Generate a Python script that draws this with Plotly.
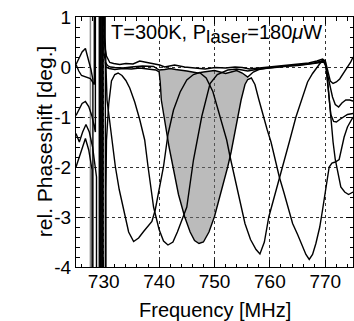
import plotly.graph_objects as go

# ---------------- data ----------------
env1_x = [725.0, 725.5, 726.1, 726.7, 727.2, 727.7, 728.05, 728.05, 729.45, 729.45, 730.15, 730.15, 730.5, 731.1,
          731.8, 732.9, 734.0, 735.3, 736.5, 737.3, 738.3, 740.1, 741.0, 742.8, 744.6, 746.5, 748.3, 750.1, 752.0,
          753.7, 755.0, 756.3, 758.1, 759.9, 761.5, 763.5, 765.3, 767.0, 768.5, 769.5, 770.0, 770.4, 770.9, 771.4,
          772.0, 772.6, 773.3, 774.0, 774.6, 775.0]
env1_y = [0.05, 0.17, 0.30, 0.37, 0.18, -0.05, -0.25, -6, -6, 6, 6, 0.45, 0.22, 0.09,
          0.07, 0.05, 0.07, 0.06, 0.12, 0.10, 0.07, 0.04, 0.0, 0.04, 0.0, -0.02, -0.04, -0.01, -0.02,
          0.0, -0.01, -0.04, -0.02, 0.0, 0.02, 0.04, 0.05, 0.08, 0.12, 0.16, 0.12, -0.05, -0.28, -0.33,
          -0.30, -0.24, -0.12, 0.0, 0.1, 0.2]

env2_x = [725.0, 725.5, 726.0, 726.8, 727.6, 728.3, 728.3, 729.65, 729.65, 730.3, 730.3, 730.7, 731.2, 732.0,
          733.5, 735.0, 737.0, 739.0, 740.0, 741.0, 742.0, 743.0, 744.0, 745.0, 746.0, 747.0, 748.0, 749.0,
          750.0, 751.0, 752.0, 753.0, 754.0, 755.0, 756.0, 757.0, 758.0, 759.5, 761.0, 763.0, 765.0, 767.0,
          768.5, 769.7, 770.2, 770.6, 771.0, 771.4, 771.8, 772.3, 772.8, 773.5, 774.2, 775.0]
env2_y = [0.05, -0.08, -0.17, -0.20, -0.23, -0.35, 6, 6, -6, -6, 0.1, 0.03, 0.0, -0.01,
          -0.02, 0.0, 0.02, 0.01, -0.06, -0.05, -0.03, -0.05, -0.06, -0.08, -0.1, -0.12, -0.1, -0.09,
          -0.07, -0.1, -0.13, -0.1, -0.07, -0.12, -0.2, -0.1, -0.05, -0.02, 0.0, 0.02, 0.03, 0.05,
          0.08, 0.1, 0.0, -0.5, -1.1, -1.5, -1.85, -2.15, -2.4, -2.5, -2.55, -2.5]

b_x = [725.0, 725.5, 726.1, 726.7, 727.3, 727.9, 728.5, 728.5, 729.9, 729.9, 730.4, 730.4, 730.5, 730.9, 731.4,
       732.0, 732.6, 733.3, 734.0, 734.7, 735.6, 736.5, 737.4, 738.0, 739.0, 740.0, 740.8, 741.6, 742.5, 743.3,
       744.2, 745.0, 746.2, 747.7, 749.2, 750.5, 752.4, 754.0, 756.0, 758.0, 760.0, 762.0, 764.0, 766.0, 768.0,
       769.3, 769.9, 770.3, 770.8, 771.3, 771.8, 772.4, 773.0, 773.7, 774.4, 775.0]
b_y = [-0.97, -0.85, -0.73, -0.69, -0.79, -0.99, -1.3, 6, 6, -6, -6, -2.5, -1.46, -0.75, -0.28,
       -0.15, -0.12, -0.17, -0.27, -0.42, -0.7, -1.05, -1.46, -1.99, -2.8, -3.25, -3.48, -3.56, -3.5, -3.3,
       -3.05, -2.8, -1.86, -0.99, -0.33, -0.15, -0.06, -0.04, -0.08, -0.04, -0.02, 0.0, 0.03, 0.05, 0.08,
       0.12, 0.1, -0.1, -0.4, -0.6, -0.75, -0.8, -0.72, -0.66, -0.66, -0.68]

ad_x = [725.0, 725.6, 726.2, 726.8, 727.4, 728.0, 728.7, 728.7, 729.2, 729.2, 730.25, 730.25, 730.6, 731.3,
        732.1, 732.8, 733.6, 734.5, 735.4, 736.3, 737.2, 738.0, 738.7, 739.3, 740.0, 740.8, 741.6, 742.6,
        743.8, 745.0, 746.2, 747.3, 748.5, 749.7, 750.5, 751.4, 752.2, 752.8, 753.8, 754.7, 755.5, 756.5,
        757.5, 758.2, 759.0, 759.8, 760.8, 761.7, 762.6, 763.5, 764.7, 765.9, 766.8, 767.7, 768.6, 769.5,
        770.0, 770.3, 770.6, 771.0, 771.5, 772.0, 772.6, 773.3, 774.0, 775.0]
ad_y = [-1.33, -1.5, -1.3, -1.15, -1.3, -1.6, -2.2, -6, -6, 6, 6, 0.6, -0.66, -1.3,
        -1.99, -2.45, -2.86, -3.3, -3.49, -3.42, -3.29, -3.17, -3.09, -2.86, -2.45, -1.99, -1.35, -0.86,
        -0.5, -0.26, -0.15, -0.11, -0.22, -0.49, -0.8, -1.15, -1.46, -1.79, -2.3, -2.75, -3.13, -3.45,
        -3.65, -3.74, -3.5, -3.0, -2.6, -2.25, -1.9, -1.5, -1.0, -0.6, -0.3, -0.13, 0.0, 0.14,
        0.12, -0.2, -0.6, -0.95, -1.09, -1.1, -1.05, -1.0, -0.95, -0.93]

c_x = [725.0, 725.6, 726.1, 726.7, 727.3, 727.9, 727.9, 729.75, 729.75, 730.05, 730.05, 730.4, 731.0, 732.0,
       733.5, 735.0, 736.5, 738.0, 739.4, 740.0, 740.2, 740.4, 741.0, 741.8, 742.5, 743.5, 744.6, 745.6,
       746.4, 747.2, 748.0, 749.0, 750.0, 751.2, 752.4, 753.0, 753.8, 754.8, 755.5, 756.0, 756.65, 757.3,
       758.0, 758.7, 759.5, 760.2, 761.0, 761.7, 762.5, 763.3, 764.1, 765.0, 765.9, 766.5, 767.1, 767.7,
       768.3, 769.0, 769.5, 770.1, 770.7, 771.2, 771.8, 772.5, 773.0, 773.4, 774.0, 774.6, 775.0]
c_y = [-2.0, -1.8, -1.66, -1.43, -1.66, -2.06, -6, -6, 6, 6, 0.3, 0.0, -0.03, -0.05,
       -0.03, -0.04, -0.02, -0.04, -0.06, -0.1, -0.3, -0.66, -1.1, -1.6, -1.99, -2.55, -2.99, -3.3,
       -3.47, -3.53, -3.5, -3.3, -2.99, -2.5, -1.99, -1.7, -1.2, -0.66, -0.35, -0.25, -0.22, -0.35,
       -0.65, -0.95, -1.25, -1.5, -1.9, -2.2, -2.5, -2.8, -3.13, -3.35, -3.6, -3.75, -3.85, -3.75,
       -3.53, -3.2, -2.86, -2.4, -2.0, -1.92, -1.9, -1.85, -1.6, -1.4, -1.2, -1.06, -1.0]

laser_x = [727.6, 727.6, None, 729.3, 729.3]
laser_y = [-6, 6, None, -6, 6]

shade_lo, shade_hi = 740.0, 756.0

x_ticks = [730, 740, 750, 760, 770]
y_ticks = [1, 0, -1, -2, -3, -4]

# ---------------- figure ----------------
fig = go.Figure()

# shaded resonance (between trace C and the lower envelope)
sx = [x for x in c_x if shade_lo <= x <= shade_hi]
sy = [y for x, y in zip(c_x, c_y) if shade_lo <= x <= shade_hi]
tx = [x for x in env2_x if shade_lo <= x <= shade_hi]
ty = [y for x, y in zip(env2_x, env2_y) if shade_lo <= x <= shade_hi]
fig.add_trace(go.Scatter(x=sx + tx[::-1], y=sy + ty[::-1], fill="toself",
                         fillcolor="rgba(120,120,120,0.5)", line=dict(width=0),
                         mode="lines", hoverinfo="skip", showlegend=False))

fig.add_trace(go.Scatter(x=laser_x, y=laser_y, mode="lines",
                         line=dict(color="#8a8a8a", width=1.5), showlegend=False))

for xs, ys in [(env1_x, env1_y), (env2_x, env2_y), (b_x, b_y), (ad_x, ad_y), (c_x, c_y)]:
    fig.add_trace(go.Scatter(x=xs, y=ys, mode="lines",
                             line=dict(color="black", width=1.4), showlegend=False))

font_family = "Liberation Sans, Arial, sans-serif"

fig.add_annotation(x=731.0, y=0.66, xref="x", yref="y", xanchor="left", yanchor="middle",
                   text="T=300K, P<sub><span style='font-size:19px'>laser</span></sub>=180<i>μ</i>W",
                   showarrow=False, font=dict(family=font_family, size=20, color="black"))

# axis titles as annotations for exact placement
fig.add_annotation(x=0.5, y=-0.17, xref="paper", yref="paper", xanchor="center", yanchor="middle",
                   text="Frequency [MHz]", showarrow=False,
                   font=dict(family=font_family, size=20, color="black"))
fig.add_annotation(x=-0.115, y=0.5, xref="paper", yref="paper", xanchor="center", yanchor="middle",
                   text="rel. Phaseshift [deg.]", textangle=-90, showarrow=False,
                   font=dict(family=font_family, size=21, color="black"))

fig.update_xaxes(range=[725, 775], tickvals=x_ticks, ticktext=[str(v) for v in x_ticks],
                 showline=True, linecolor="black", linewidth=1, mirror="allticks",
                 ticks="inside", ticklen=7, tickwidth=1, tickcolor="black",
                 minor=dict(dtick=2, ticks="inside", ticklen=3.5, tickcolor="black", showgrid=False),
                 showgrid=True, gridcolor="#333333", griddash="dot", gridwidth=1,
                 zeroline=False, ticklabelstandoff=-3,
                 tickfont=dict(family=font_family, size=19, color="black"))
fig.update_yaxes(range=[-4, 1], tickvals=y_ticks, ticktext=[str(v) for v in y_ticks],
                 showline=True, linecolor="black", linewidth=1, mirror="allticks",
                 ticks="inside", ticklen=7, tickwidth=1, tickcolor="black",
                 minor=dict(dtick=0.2, ticks="inside", ticklen=3.5, tickcolor="black", showgrid=False),
                 showgrid=True, gridcolor="#333333", griddash="dot", gridwidth=1,
                 zeroline=False, ticklabelstandoff=0,
                 tickfont=dict(family=font_family, size=19, color="black"))

fig.update_layout(width=354, height=321, margin=dict(l=76, r=1, t=17, b=54),
                  plot_bgcolor="white", paper_bgcolor="white")

fig.write_html("out.html", config={"displayModeBar": False},
               post_script="document.body.style.margin='0';document.body.style.overflow='hidden';")
